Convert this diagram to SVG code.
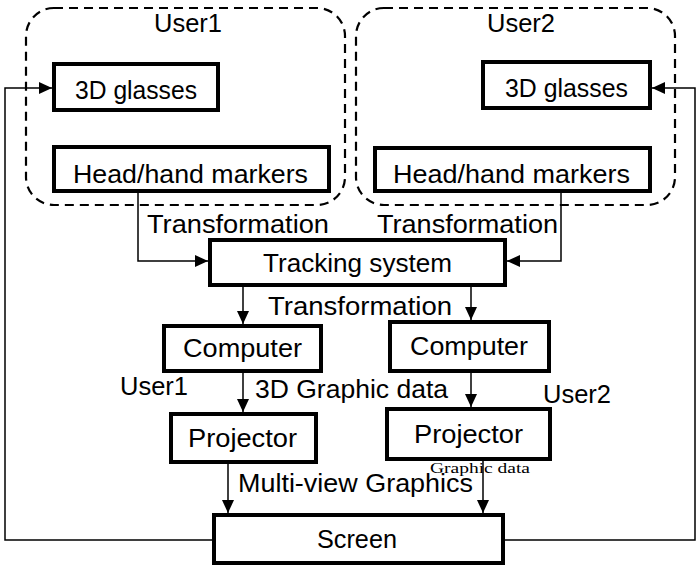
<svg xmlns="http://www.w3.org/2000/svg" width="696" height="568" viewBox="0 0 696 568">
<defs>
<marker id="arr" markerUnits="userSpaceOnUse" markerWidth="14" markerHeight="14" viewBox="0 0 14 14" refX="13" refY="7" orient="auto">
<path d="M0,1 L13,7 L0,13 Z" fill="#000"/>
</marker>
<style>
.grp{fill:none;stroke:#000;stroke-width:2.2;stroke-dasharray:9 6}
.box{fill:#fff;stroke:#000;stroke-width:4}
.lbl{font-family:"Liberation Sans",Arial,sans-serif;font-size:25px;fill:#000}
.small{font-family:"Liberation Serif","Times New Roman",serif;font-size:15px;fill:#000}
.con{fill:none;stroke:#000;stroke-width:1.5}
</style>
</defs>
<rect width="696" height="568" fill="#fff"/>
<g id="user1-group">
<rect class="grp" x="26" y="8" width="319" height="197" rx="28"/>
<text class="lbl" x="154" y="32" textLength="68" lengthAdjust="spacingAndGlyphs">User1</text>
</g>
<g id="user2-group">
<rect class="grp" x="356" y="8" width="319" height="197" rx="28"/>
<text class="lbl" x="487" y="32" textLength="68" lengthAdjust="spacingAndGlyphs">User2</text>
</g>
<g id="connectors">
<polyline class="con" points="212,540 5,540 5,88 52,88" marker-end="url(#arr)"/>
<polyline class="con" points="505,540 695,540 695,88 652,88" marker-end="url(#arr)"/>
<polyline class="con" points="138,193 138,261 208,261" marker-end="url(#arr)"/>
<polyline class="con" points="561,193 561,261 507,261" marker-end="url(#arr)"/>
<line class="con" x1="243" y1="287" x2="243" y2="324" marker-end="url(#arr)"/>
<line class="con" x1="471" y1="287" x2="471" y2="320" marker-end="url(#arr)"/>
<line class="con" x1="243" y1="373" x2="243" y2="412" marker-end="url(#arr)"/>
<line class="con" x1="471" y1="373" x2="471" y2="407" marker-end="url(#arr)"/>
<line class="con" x1="228" y1="464" x2="228" y2="513" marker-end="url(#arr)"/>
<line class="con" x1="483" y1="461" x2="483" y2="513" marker-end="url(#arr)"/>
</g>
<g id="glasses1">
<rect class="box" x="54" y="64" width="164" height="46"/>
<text class="lbl" x="75" y="99" textLength="122" lengthAdjust="spacingAndGlyphs">3D glasses</text>
</g>
<g id="markers1">
<rect class="box" x="54" y="147" width="275" height="44"/>
<text class="lbl" x="73" y="183" textLength="235" lengthAdjust="spacingAndGlyphs">Head/hand markers</text>
</g>
<g id="glasses2">
<rect class="box" x="483" y="62" width="167" height="46"/>
<text class="lbl" x="505" y="97" textLength="123" lengthAdjust="spacingAndGlyphs">3D glasses</text>
</g>
<g id="markers2">
<rect class="box" x="375" y="148" width="275" height="43"/>
<text class="lbl" x="393" y="183" textLength="237" lengthAdjust="spacingAndGlyphs">Head/hand markers</text>
</g>
<g id="tracking">
<rect class="box" x="210" y="240" width="295" height="45"/>
<text class="lbl" x="263" y="272" textLength="189" lengthAdjust="spacingAndGlyphs">Tracking system</text>
</g>
<g id="computer1">
<rect class="box" x="164" y="326" width="157" height="45"/>
<text class="lbl" x="183" y="357" textLength="119" lengthAdjust="spacingAndGlyphs">Computer</text>
</g>
<g id="computer2">
<rect class="box" x="390" y="322" width="159" height="49"/>
<text class="lbl" x="410" y="355" textLength="118" lengthAdjust="spacingAndGlyphs">Computer</text>
</g>
<g id="projector1">
<rect class="box" x="171" y="414" width="145" height="48"/>
<text class="lbl" x="188" y="447" textLength="109" lengthAdjust="spacingAndGlyphs">Projector</text>
</g>
<g id="projector2">
<rect class="box" x="387" y="409" width="163" height="50"/>
<text class="lbl" x="414" y="443" textLength="109" lengthAdjust="spacingAndGlyphs">Projector</text>
</g>
<g id="screen">
<rect class="box" x="214" y="515" width="289" height="48"/>
<text class="lbl" x="317" y="548" textLength="80" lengthAdjust="spacingAndGlyphs">Screen</text>
</g>
<g id="labels">
<text class="lbl" x="147" y="233" textLength="182" lengthAdjust="spacingAndGlyphs">Transformation</text>
<text class="lbl" x="377" y="233" textLength="181" lengthAdjust="spacingAndGlyphs">Transformation</text>
<text class="lbl" x="268" y="315" textLength="184" lengthAdjust="spacingAndGlyphs">Transformation</text>
<text class="lbl" x="120" y="395" textLength="68" lengthAdjust="spacingAndGlyphs">User1</text>
<text class="lbl" x="255" y="398" textLength="193" lengthAdjust="spacingAndGlyphs">3D Graphic data</text>
<text class="lbl" x="543" y="403" textLength="68" lengthAdjust="spacingAndGlyphs">User2</text>
<text class="small" x="430" y="473" textLength="100" lengthAdjust="spacingAndGlyphs">Graphic data</text>
<text class="lbl" x="238" y="492" textLength="235" lengthAdjust="spacingAndGlyphs">Multi-view Graphics</text>
</g>
</svg>
